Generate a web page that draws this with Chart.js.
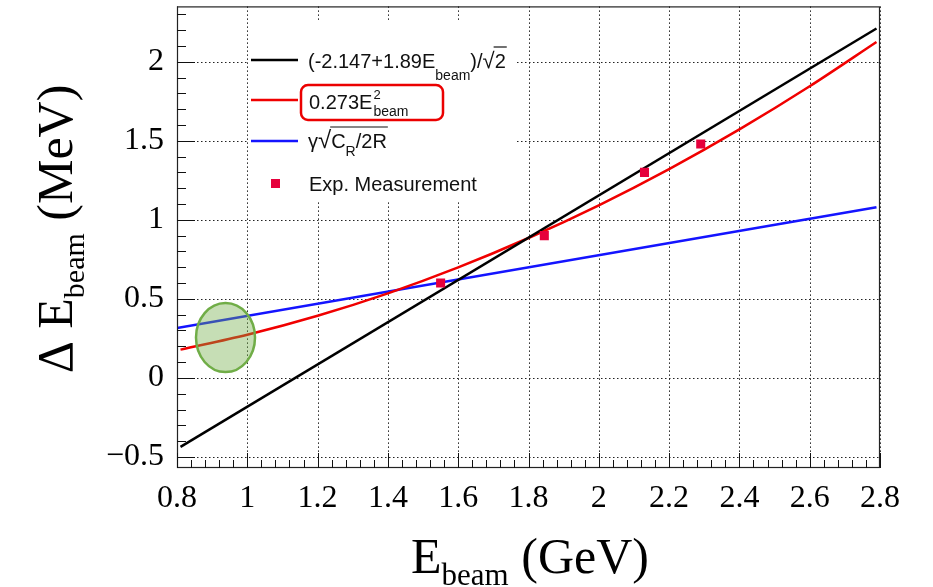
<!DOCTYPE html>
<html>
<head>
<meta charset="utf-8">
<script src="https://cdn.jsdelivr.net/npm/chart.js@4.4.1/dist/chart.umd.min.js"></script>
<style>
  body { margin: 0; background: #fff; }
  #wrap { width: 933px; height: 587px; }
</style>
</head>
<body>
<div id="wrap"><canvas id="grafico" width="933" height="587"></canvas></div>
<script>
// values
const xTicks = [0.8, 1, 1.2, 1.4, 1.6, 1.8, 2, 2.2, 2.4, 2.6, 2.8];
const yTicks = [-0.5, 0, 0.5, 1, 1.5, 2];

const linE = [0.81, 2.79];              // (-2.147+1.89E)/sqrt2
const linDE = [-0.436, 2.21];

const quadE = [0.81, 1.0, 1.2, 1.4, 1.6, 1.8, 2.0, 2.2, 2.4, 2.6, 2.79];   // 0.273E^2
const quadDE = [0.179, 0.273, 0.393, 0.535, 0.699, 0.885, 1.092, 1.321, 1.572, 1.845, 2.125];

const radE = [0.8, 2.79];               // gamma*sqrt(CR/2R)
const radDE = [0.315, 1.08];

const measE = [1.55, 1.845, 2.13, 2.29];  // Exp. Measurement
const measDE = [0.60, 0.90, 1.30, 1.48];

const circleE = 0.938, circleDE = 0.255; // green highlight

function pts(xs, ys) {
    return xs.map((x, i) => ({ x: x, y: ys[i] }));
}

const SERIF = "'Liberation Serif', 'Times New Roman', serif";
const SANS = "'Liberation Sans', Arial, sans-serif";

// draws text pieces one after another, returns end x
function pieces(ctx, x, y, parts) {
    parts.forEach(p => {
        ctx.font = p.size + 'px ' + p.fam;
        ctx.fillText(p.t, x, y + (p.dy || 0));
        x += ctx.measureText(p.t).width;
    });
    return x;
}
function piecesWidth(ctx, parts) {
    let w = 0;
    parts.forEach(p => {
        ctx.font = p.size + 'px ' + p.fam;
        w += ctx.measureText(p.t).width;
    });
    return w;
}

const gridPlugin = {
    id: 'rootGrid',
    beforeDatasetsDraw(chart) {
        const { ctx, chartArea: a, scales: { x, y } } = chart;
        ctx.save();
        ctx.strokeStyle = '#222';
        ctx.lineWidth = 1;
        ctx.setLineDash([1.5, 2.5]);
        xTicks.forEach(v => {
            const px = Math.round(x.getPixelForValue(v)) + 0.5;
            ctx.beginPath(); ctx.moveTo(px, a.top); ctx.lineTo(px, a.bottom); ctx.stroke();
        });
        yTicks.forEach(v => {
            const py = Math.round(y.getPixelForValue(v)) + 0.5;
            ctx.beginPath(); ctx.moveTo(a.left, py); ctx.lineTo(a.right, py); ctx.stroke();
        });
        ctx.restore();
    },
    afterDraw(chart) {
        const { ctx, chartArea: a, scales: { x, y } } = chart;
        ctx.save();

        // frame
        ctx.strokeStyle = '#222';
        ctx.lineWidth = 1.2;
        ctx.strokeRect(a.left + 0.5, a.top + 0.5, a.right - a.left - 1, a.bottom - a.top - 1);

        // inward ticks
        ctx.lineWidth = 1;
        ctx.strokeStyle = '#111';
        for (let i = 0; i <= 50; i++) {
            const v = 0.8 + i * 0.04;
            const px = Math.round(x.getPixelForValue(v)) + 0.5;
            const len = (i % 5 === 0) ? 15 : 8;
            ctx.beginPath(); ctx.moveTo(px, a.bottom); ctx.lineTo(px, a.bottom - len); ctx.stroke();
        }
        for (let i = 0; i <= 28; i++) {
            const v = -0.5 + i * 0.1;
            const py = Math.round(y.getPixelForValue(v)) + 0.5;
            const len = (i % 5 === 0) ? 18 : 9;
            ctx.beginPath(); ctx.moveTo(a.left, py); ctx.lineTo(a.left + len, py); ctx.stroke();
        }

        // legend
        ctx.fillStyle = '#fff';
        ctx.fillRect(249, 22, 267, 178);
        ctx.lineWidth = 2.5;
        [['#000', 60], ['rgb(240,0,0)', 100], ['rgb(20,20,255)', 141]].forEach(([c, ly]) => {
            ctx.strokeStyle = c;
            ctx.beginPath(); ctx.moveTo(251, ly); ctx.lineTo(298, ly); ctx.stroke();
        });
        ctx.fillStyle = 'rgb(230,0,60)';
        ctx.fillRect(271, 179, 9, 9);

        ctx.fillStyle = '#111';
        ctx.textBaseline = 'alphabetic';
        ctx.textAlign = 'left';
        // row 1
        let ex = pieces(ctx, 308, 68, [
            { t: '(-2.147+1.89E', size: 20, fam: SANS },
            { t: 'beam', size: 14, fam: SANS, dy: 12 },
            { t: ')/', size: 20, fam: SANS },
            { t: '\u221A', size: 22, fam: SANS }
        ]);
        let ex2 = pieces(ctx, ex, 68, [{ t: '2', size: 20, fam: SANS }]);
        ctx.strokeStyle = '#111'; ctx.lineWidth = 1.2;
        ctx.beginPath(); ctx.moveTo(ex - 1, 47); ctx.lineTo(ex2 + 1, 47); ctx.stroke();
        // row 2
        ex = pieces(ctx, 309, 109, [{ t: '0.273E', size: 20, fam: SANS }]);
        pieces(ctx, ex + 1, 99, [{ t: '2', size: 13, fam: SANS }]);
        pieces(ctx, ex + 1, 116, [{ t: 'beam', size: 14, fam: SANS }]);
        // row 3
        ex = pieces(ctx, 308, 148, [
            { t: '\u03B3', size: 20, fam: SANS },
            { t: '\u221A', size: 24, fam: SANS }
        ]);
        ex2 = pieces(ctx, ex, 148, [
            { t: 'C', size: 20, fam: SANS },
            { t: 'R', size: 14, fam: SANS, dy: 8 },
            { t: '/2R', size: 20, fam: SANS }
        ]);
        ctx.beginPath(); ctx.moveTo(ex - 1, 127); ctx.lineTo(ex2 + 1, 127); ctx.stroke();
        // row 4
        pieces(ctx, 309, 191, [{ t: 'Exp. Measurement', size: 20, fam: SANS }]);

        // red highlight box
        ctx.strokeStyle = 'rgb(235,0,0)';
        ctx.lineWidth = 2.5;
        ctx.beginPath();
        ctx.roundRect(301, 85, 142, 35, 7);
        ctx.stroke();

        // green highlight ellipse
        const cx = x.getPixelForValue(circleE), cy = y.getPixelForValue(circleDE);
        ctx.beginPath();
        ctx.ellipse(cx, cy, 29.5, 34.5, 0, 0, Math.PI * 2);
        ctx.fillStyle = 'rgba(112,173,71,0.4)';
        ctx.fill();
        ctx.strokeStyle = '#70ad47';
        ctx.lineWidth = 2.5;
        ctx.stroke();

        // axis titles
        ctx.fillStyle = '#000';
        const xt = [
            { t: 'E', size: 50, fam: SERIF },
            { t: 'beam', size: 31, fam: SERIF, dy: 12 },
            { t: ' (GeV)', size: 50, fam: SERIF }
        ];
        pieces(ctx, 530 - piecesWidth(ctx, xt) / 2, 573, xt);

        const yt = [
            { t: '\u0394 E', size: 50, fam: SERIF },
            { t: 'beam', size: 30, fam: SERIF, dy: 12 },
            { t: ' (MeV)', size: 50, fam: SERIF }
        ];
        ctx.translate(72, 229);
        ctx.rotate(-Math.PI / 2);
        pieces(ctx, -piecesWidth(ctx, yt) / 2, 0, yt);

        ctx.restore();
    }
};

const ctx = document.getElementById('grafico').getContext('2d');
const grafico = new Chart(ctx, {
    type: 'scatter',
    data: {
        datasets: [{
            label: 'Exp. Measurement',
            data: pts(measE, measDE),
            pointStyle: 'rect',
            pointRadius: 6.4,
            backgroundColor: 'rgb(230,0,60)',
            borderWidth: 0
        }, {
            label: '(-2.147+1.89E)/sqrt2',
            data: pts(linE, linDE),
            showLine: true,
            borderColor: '#000',
            borderWidth: 2.5,
            pointRadius: 0
        }, {
            label: '0.273E^2',
            data: pts(quadE, quadDE),
            showLine: true,
            cubicInterpolationMode: 'monotone',
            borderColor: 'rgb(240,0,0)',
            borderWidth: 2.5,
            pointRadius: 0
        }, {
            label: 'gamma sqrt(CR/2R)',
            data: pts(radE, radDE),
            showLine: true,
            borderColor: 'rgb(20,20,255)',
            borderWidth: 2.5,
            pointRadius: 0
        }]
    },
    options: {
        responsive: false,
        animation: false,
        layout: { padding: { top: 5, right: 53, left: 0, bottom: 0 } },
        plugins: {
            legend: { display: false },
            tooltip: { enabled: false }
        },
        scales: {
            x: {
                type: 'linear',
                min: 0.8,
                max: 2.8,
                afterFit(s) { s.height = 119; s.paddingLeft = 0; s.paddingRight = 0; },
                afterBuildTicks(s) { s.ticks = xTicks.map(v => ({ value: v })); },
                grid: { display: false },
                border: { display: false },
                ticks: {
                    font: { family: SERIF, size: 32 },
                    color: '#000',
                    padding: 3,
                    maxRotation: 0,
                    autoSkip: false,
                    callback: v => String(v)
                }
            },
            y: {
                type: 'linear',
                min: -0.57,
                max: 2.35,
                afterFit(s) { s.width = 177; s.paddingTop = 0; s.paddingBottom = 0; },
                afterBuildTicks(s) { s.ticks = yTicks.map(v => ({ value: v })); },
                grid: { display: false },
                border: { display: false },
                ticks: {
                    font: { family: SERIF, size: 32 },
                    color: '#000',
                    padding: 5,
                    autoSkip: false,
                    callback: v => v < 0 ? '\u2212' + Math.abs(v) : String(v)
                }
            }
        }
    },
    plugins: [gridPlugin]
});
</script>
</body>
</html>
